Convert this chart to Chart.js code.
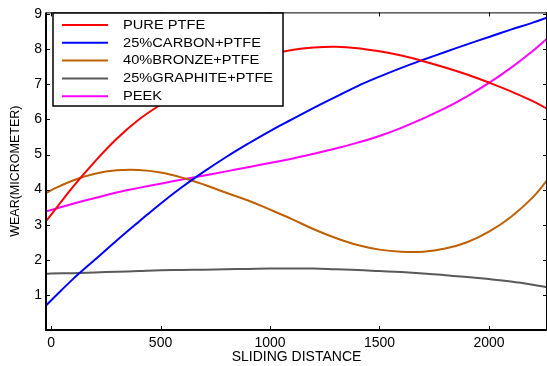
<!DOCTYPE html>
<html>
<head>
<meta charset="utf-8">
<script src="https://cdn.jsdelivr.net/npm/chart.js@4.4.1/dist/chart.umd.min.js"></script>
<style>
  html, body { margin: 0; padding: 0; background: #fff; }
  #wrap { width: 547px; height: 366px; }
</style>
</head>
<body>
<div id="wrap"><canvas id="wearChart" width="547" height="366"></canvas></div>
<script>
// ---------------- DATA ----------------
const distance = [-23, 0, 100, 200, 300, 400, 500, 600, 700, 800, 900, 1000, 1100,
  1200, 1300, 1400, 1500, 1600, 1700, 1800, 1900, 2000, 2100, 2200, 2265];

const purePtfe = [3.10, 3.28, 4.08, 4.80, 5.45, 5.99, 6.42, 6.80, 7.13, 7.42, 7.66, 7.85, 7.98,
  8.05, 8.07, 8.03, 7.94, 7.82, 7.66, 7.48, 7.28, 7.05, 6.80, 6.52, 6.31];
const carbonPtfe = [0.70, 0.84, 1.45, 2.00, 2.55, 3.08, 3.60, 4.08, 4.52, 4.93, 5.31, 5.67, 6.00,
  6.33, 6.64, 6.95, 7.22, 7.47, 7.70, 7.92, 8.14, 8.35, 8.56, 8.76, 8.90];
const bronzePtfe = [3.90, 3.98, 4.26, 4.45, 4.55, 4.56, 4.49, 4.34, 4.14, 3.91, 3.69, 3.43, 3.16,
  2.87, 2.62, 2.42, 2.29, 2.23, 2.23, 2.32, 2.50, 2.80, 3.22, 3.78, 4.26];
const graphitePtfe = [1.60, 1.61, 1.62, 1.64, 1.66, 1.68, 1.70, 1.71, 1.72, 1.73, 1.74, 1.75, 1.75,
  1.75, 1.73, 1.71, 1.68, 1.65, 1.61, 1.56, 1.51, 1.45, 1.38, 1.29, 1.22];
const peek = [3.38, 3.42, 3.60, 3.76, 3.92, 4.05, 4.17, 4.29, 4.40, 4.52, 4.64, 4.76, 4.88,
  5.02, 5.17, 5.34, 5.53, 5.76, 6.03, 6.32, 6.66, 7.04, 7.47, 7.95, 8.30];

const seriesNames = ["PURE PTFE", "25%CARBON+PTFE", "40%BRONZE+PTFE", "25%GRAPHITE+PTFE", "PEEK"];
const xTickValues = [0, 500, 1000, 1500, 2000];
const yTickValues = [1, 2, 3, 4, 5, 6, 7, 8, 9];

const colors = ["#ff0000", "#0000ff", "#bf6000", "#595959", "#ff00ff"];
const FONT = "'Liberation Sans', Arial, sans-serif";

function toPoints(values) {
  return values.map((v, i) => ({ x: distance[i], y: v }));
}

const allSeries = [purePtfe, carbonPtfe, bronzePtfe, graphitePtfe, peek];

// ---------------- FRAME + LEGEND ----------------
const framePlugin = {
  id: "frame",
  afterDatasetsDraw(chart) {
    const { ctx, chartArea: a, scales } = chart;
    const x = scales.x, y = scales.y;
    ctx.save();

    // inward tick marks on all four sides
    ctx.strokeStyle = "#000";
    ctx.lineWidth = 1;
    ctx.beginPath();
    xTickValues.forEach(v => {
      const px = Math.round(x.getPixelForValue(v)) + 0.5;
      ctx.moveTo(px, a.bottom); ctx.lineTo(px, a.bottom - 4);
      ctx.moveTo(px, a.top); ctx.lineTo(px, a.top + 4);
    });
    yTickValues.forEach(v => {
      const py = Math.round(y.getPixelForValue(v)) + 0.5;
      ctx.moveTo(a.left, py); ctx.lineTo(a.left + 4, py);
      ctx.moveTo(a.right, py); ctx.lineTo(a.right - 4, py);
    });
    ctx.stroke();

    // box
    ctx.lineWidth = 1;
    ctx.beginPath();
    ctx.moveTo(a.left, a.top + 0.5); ctx.lineTo(a.right, a.top + 0.5);
    ctx.moveTo(a.right - 0.5, a.top); ctx.lineTo(a.right - 0.5, a.bottom);
    ctx.stroke();
    ctx.lineWidth = 2;
    ctx.beginPath();
    ctx.moveTo(a.left, a.top); ctx.lineTo(a.left, a.bottom);
    ctx.lineTo(a.right, a.bottom);
    ctx.stroke();

    // legend
    const lx = 53, ly = 13, lw = 230, lh = 93;
    ctx.fillStyle = "#fff";
    ctx.fillRect(lx, ly, lw, lh);
    ctx.lineWidth = 1.5;
    ctx.strokeStyle = "#000";
    ctx.strokeRect(lx, ly, lw, lh);

    ctx.font = "12px " + FONT;
    ctx.textBaseline = "middle";
    chart.data.datasets.forEach((ds, i) => {
      const rowY = 25 + i * 17.8;
      ctx.strokeStyle = ds.borderColor;
      ctx.lineWidth = 2;
      ctx.beginPath();
      ctx.moveTo(62, rowY); ctx.lineTo(108, rowY);
      ctx.stroke();
      ctx.save();
      ctx.translate(123, rowY + 0.5);
      ctx.scale(1.22, 1);
      ctx.fillStyle = "#000";
      ctx.fillText(ds.label, 0, 0);
      ctx.restore();
    });

    ctx.restore();
  }
};

// ---------------- CHART ----------------
const ctx = document.getElementById("wearChart").getContext("2d");

const chart = new Chart(ctx, {
  type: "line",
  data: {
    datasets: allSeries.map((vals, i) => ({
      label: seriesNames[i],
      data: toPoints(vals),
      borderColor: colors[i],
      backgroundColor: colors[i],
      borderWidth: 2,
      pointRadius: 0,
      tension: 0.4,
      fill: false
    }))
  },
  options: {
    responsive: false,
    animation: false,
    layout: { padding: { top: 9, right: 0, left: 0, bottom: 0 } },
    plugins: {
      legend: { display: false },
      tooltip: { enabled: false }
    },
    scales: {
      x: {
        type: "linear",
        min: -23,
        max: 2265,
        afterBuildTicks: s => { s.ticks = xTickValues.map(v => ({ value: v })); },
        afterFit: s => { s.height = 36; },
        grid: { display: false, drawTicks: false },
        border: { display: false },
        ticks: {
          color: "#000",
          padding: 5,
          maxRotation: 0,
          autoSkip: false,
          font: { family: FONT, size: 14 },
          callback: v => String(v)
        },
        title: {
          display: true,
          text: "SLIDING DISTANCE",
          color: "#000",
          font: { family: FONT, size: 14 },
          padding: { top: 0, bottom: 0 }
        }
      },
      y: {
        min: 0,
        max: 9.05,
        afterBuildTicks: s => { s.ticks = yTickValues.map(v => ({ value: v })); },
        afterFit: s => { s.width = 46; },
        grid: { display: false, drawTicks: false },
        border: { display: false },
        ticks: {
          color: "#000",
          padding: 4,
          autoSkip: false,
          font: { family: FONT, size: 14 },
          callback: v => String(v)
        },
        title: {
          display: true,
          text: "WEAR(MICROMETER)",
          color: "#000",
          font: { family: FONT, size: 12.5 },
          padding: { top: 8, bottom: 0 }
        }
      }
    }
  },
  plugins: [framePlugin]
});
</script>
</body>
</html>
